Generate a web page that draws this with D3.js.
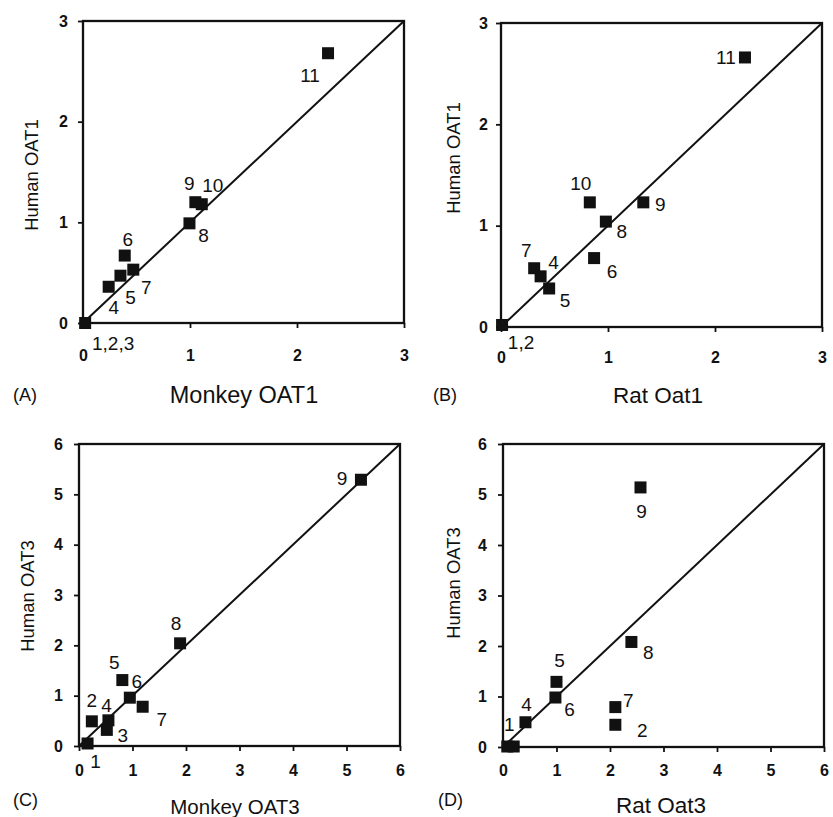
<!DOCTYPE html>
<html>
<head>
<meta charset="utf-8">
<script src="https://cdn.jsdelivr.net/npm/d3@7"></script>
<style>
  body { margin: 0; background: #fff; }
  svg { display: block; font-family: "Liberation Sans", Arial, sans-serif; }
</style>
</head>
<body>
<svg id="chart" width="833" height="817"></svg>
<script>
// (A) Monkey OAT1 vs Human OAT1
const oat1MonkeyX = [0.02, 0.24, 0.35, 0.39, 0.47, 0.995, 1.05, 1.11, 2.29];
const oat1MonkeyHumanY = [0.0, 0.36, 0.47, 0.67, 0.53, 0.99, 1.2, 1.18, 2.68];
const oat1MonkeyLabels = ["1,2,3", "4", "5", "6", "7", "8", "9", "10", "11"];

// (B) Rat Oat1 vs Human OAT1
const oat1RatX = [0.01, 0.31, 0.37, 0.45, 0.83, 0.98, 0.87, 1.33, 2.28];
const oat1RatHumanY = [0.02, 0.58, 0.5, 0.38, 1.23, 1.04, 0.68, 1.23, 2.66];
const oat1RatLabels = ["1,2", "7", "4", "5", "10", "8", "6", "9", "11"];

// (C) Monkey OAT3 vs Human OAT3
const oat3MonkeyX = [0.16, 0.24, 0.52, 0.55, 0.81, 0.95, 1.19, 1.89, 5.27];
const oat3MonkeyHumanY = [0.05, 0.49, 0.32, 0.51, 1.31, 0.96, 0.78, 2.04, 5.29];
const oat3MonkeyLabels = ["1", "2", "3", "4", "5", "6", "7", "8", "9"];

// (D) Rat Oat3 vs Human OAT3
const oat3RatX = [0.08, 0.2, 0.42, 1.0, 0.98, 2.1, 2.1, 2.4, 2.57];
const oat3RatHumanY = [0.01, 0.01, 0.49, 1.29, 0.98, 0.79, 0.44, 2.08, 5.14];
const oat3RatLabels = ["1", "", "4", "5", "6", "7", "2", "8", "9"];

const oat1Ticks = [0, 1, 2, 3];
const oat3Ticks = [0, 1, 2, 3, 4, 5, 6];

// label placement relative to each marker (px)
const offA = [[28, 20], [5, 21], [10, 22], [3, -16], [13, 18], [14, 12], [-6, -19], [11, -19], [-18, 22]];
const offB = [[19, 18], [-8, -18], [13, -14], [16, 12], [-9, -19], [16, 10], [18, 13], [17, 2], [-19, 0]];
const offC = [[8, 18], [0, -21], [16, 6], [-2, -15], [-8, -18], [7, -16], [19, 13], [-4, -20], [-19, -1]];
const offD = [[2, -22], [0, 0], [1, -18], [3, -21], [14, 12], [13, -7], [27, 6], [17, 11], [1, 24]];

const panels = [
  { tag: "(A)", xs: oat1MonkeyX, ys: oat1MonkeyHumanY, labels: oat1MonkeyLabels, off: offA, ticks: oat1Ticks, max: 3,
    box: [83, 21, 404, 323], xTitle: "Monkey OAT1", yTitle: "Human OAT1",
    xTitlePos: [244, 403], xTitleSize: 23.5, yTitlePos: [31, 175], tagPos: [13, 401], xTickGap: 37, yTickGap: 16 },
  { tag: "(B)", xs: oat1RatX, ys: oat1RatHumanY, labels: oat1RatLabels, off: offB, ticks: oat1Ticks, max: 3,
    box: [501, 23, 822, 327], xTitle: "Rat Oat1", yTitle: "Human OAT1",
    xTitlePos: [658, 403], xTitleSize: 22.5, yTitlePos: [453, 158], tagPos: [433, 401], xTickGap: 35, yTickGap: 14 },
  { tag: "(C)", xs: oat3MonkeyX, ys: oat3MonkeyHumanY, labels: oat3MonkeyLabels, off: offC, ticks: oat3Ticks, max: 6,
    box: [79, 444, 400, 746], xTitle: "Monkey OAT3", yTitle: "Human OAT3",
    xTitlePos: [235, 814], xTitleSize: 20.5, yTitlePos: [27, 596], tagPos: [13, 806], xTickGap: 29, yTickGap: 17 },
  { tag: "(D)", xs: oat3RatX, ys: oat3RatHumanY, labels: oat3RatLabels, off: offD, ticks: oat3Ticks, max: 6,
    box: [503, 444, 824, 747], xTitle: "Rat Oat3", yTitle: "Human OAT3",
    xTitlePos: [661, 813], xTitleSize: 22.5, yTitlePos: [453, 583], tagPos: [438, 806], xTickGap: 28, yTickGap: 17 }
];

const svg = d3.select("#chart");
const ink = "#111";

panels.forEach((p) => {
  const [x0, y0, x1, y1] = p.box;
  const x = d3.scaleLinear().domain([0, p.max]).range([x0, x1]);
  const y = d3.scaleLinear().domain([0, p.max]).range([y1, y0]);
  const g = svg.append("g");

  // axes (ticks only, frame drawn separately)
  const xAxis = g.append("g").attr("transform", `translate(0,${y1})`)
    .call(d3.axisBottom(x).tickValues(p.ticks).tickFormat(d3.format("d")).tickSize(5).tickPadding(p.xTickGap - 15));
  const yAxis = g.append("g").attr("transform", `translate(${x0},0)`)
    .call(d3.axisLeft(y).tickValues(p.ticks).tickFormat(d3.format("d")).tickSize(5).tickPadding(p.yTickGap - 6));
  [xAxis, yAxis].forEach((a) => {
    a.select(".domain").remove();
    a.selectAll("line").attr("stroke", ink).attr("stroke-width", 1.8);
    a.selectAll("text").attr("fill", ink).attr("font-size", 16).attr("font-weight", "bold")
      .attr("font-family", "'Liberation Sans', Arial, sans-serif");
  });

  // frame
  g.append("rect").attr("x", x0).attr("y", y0).attr("width", x1 - x0).attr("height", y1 - y0)
    .attr("fill", "none").attr("stroke", ink).attr("stroke-width", 2.3);

  // identity line
  g.append("line").attr("x1", x(0)).attr("y1", y(0)).attr("x2", x(p.max)).attr("y2", y(p.max))
    .attr("stroke", ink).attr("stroke-width", 2);

  // markers
  const s = 12;
  p.xs.forEach((v, i) => {
    g.append("rect").attr("x", x(v) - s / 2).attr("y", y(p.ys[i]) - s / 2)
      .attr("width", s).attr("height", s).attr("fill", ink);
    if (p.labels[i]) {
      g.append("text").attr("x", x(v) + p.off[i][0]).attr("y", y(p.ys[i]) + p.off[i][1])
        .attr("text-anchor", "middle").attr("dominant-baseline", "central")
        .attr("font-size", 19).attr("fill", ink).text(p.labels[i]);
    }
  });

  // titles
  g.append("text").attr("x", p.xTitlePos[0]).attr("y", p.xTitlePos[1]).attr("text-anchor", "middle")
    .attr("font-size", p.xTitleSize).attr("fill", ink).text(p.xTitle);
  g.append("text").attr("transform", `translate(${p.yTitlePos[0]},${p.yTitlePos[1]}) rotate(-90)`)
    .attr("text-anchor", "middle").attr("dominant-baseline", "central")
    .attr("font-size", 18.5).attr("fill", ink).text(p.yTitle);
  g.append("text").attr("x", p.tagPos[0]).attr("y", p.tagPos[1])
    .attr("font-size", 18).attr("fill", ink).text(p.tag);
});
</script>
</body>
</html>
